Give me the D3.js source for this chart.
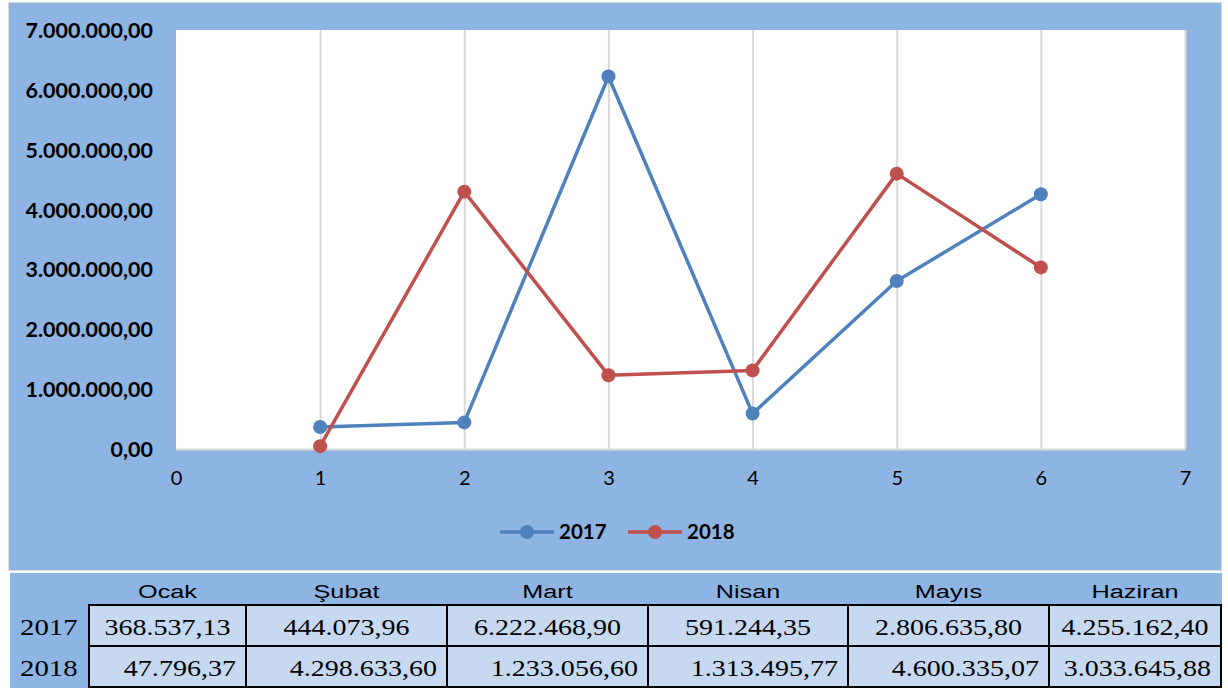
<!DOCTYPE html>
<html>
<head>
<meta charset="utf-8">
<script src="https://cdn.jsdelivr.net/npm/d3@7"></script>
<style>
    body { margin: 0; background: #ffffff; }
    svg { display: block; }
</style>
</head>
<body>
<svg id="chart" width="1228" height="688"></svg>
<script>
// chart data
var months = ["Ocak", "Şubat", "Mart", "Nisan", "Mayıs", "Haziran"];
var xValues = [1, 2, 3, 4, 5, 6];
var values2017 = [368537.13, 444073.96, 6222468.90, 591244.35, 2806635.80, 4255162.40];
var values2018 = [47796.37, 4298633.60, 1233056.60, 1313495.77, 4600335.07, 3033645.88];
var labels2017 = ["368.537,13", "444.073,96", "6.222.468,90", "591.244,35", "2.806.635,80", "4.255.162,40"];
var labels2018 = ["47.796,37", "4.298.633,60", "1.233.056,60", "1.313.495,77", "4.600.335,07", "3.033.645,88"];
var seriesNames = ["2017", "2018"];
var yTicks = [0, 1000000, 2000000, 3000000, 4000000, 5000000, 6000000, 7000000];
var xTicks = [0, 1, 2, 3, 4, 5, 6, 7];

var colors = ["#4F81BD", "#C0504D"];
var panelColor = "#8EB4E3";

var svg = d3.select("#chart");

// panel
svg.append("rect")
    .attr("x", 8.5).attr("y", 2.5)
    .attr("width", 1213).attr("height", 568)
    .attr("fill", panelColor)
    .attr("stroke", "#d9d9d9");

var plot = { left: 176, right: 1185, top: 30, bottom: 449 };

var x = d3.scaleLinear().domain([0, 7]).range([plot.left, plot.right]);
var y = d3.scaleLinear().domain([0, 7000000]).range([plot.bottom, plot.top]);

svg.append("rect")
    .attr("x", plot.left).attr("y", plot.top)
    .attr("width", plot.right - plot.left).attr("height", plot.bottom - plot.top)
    .attr("fill", "#ffffff");

// vertical gridlines
svg.append("g")
    .selectAll("line")
    .data(xTicks.slice(1))
    .join("line")
    .attr("x1", d => x(d) + 0.5).attr("x2", d => x(d) + 0.5)
    .attr("y1", plot.top).attr("y2", plot.bottom)
    .attr("stroke", "#d9d9d9")
    .attr("stroke-width", 2);

svg.append("line")
    .attr("x1", plot.left).attr("x2", plot.right + 1)
    .attr("y1", plot.bottom + 0.5).attr("y2", plot.bottom + 0.5)
    .attr("stroke", "#d9d9d9")
    .attr("stroke-width", 2);

// y axis
var fmt = d3.formatLocale({ decimal: ",", thousands: ".", grouping: [3], currency: ["", ""] }).format(",.2f");

var yAxis = d3.axisLeft(y).tickValues(yTicks).tickFormat(fmt).tickSize(0).tickPadding(23);
var gy = svg.append("g")
    .attr("transform", "translate(" + plot.left + ",0)")
    .call(yAxis);
gy.select(".domain").remove();
gy.selectAll("text")
    .attr("font-family", "Lato, sans-serif")
    .attr("font-weight", "bold")
    .attr("font-size", 21.5)
    .attr("fill", "#000")
    .attr("dy", "0.35em");

// x axis
var xAxis = d3.axisBottom(x).tickValues(xTicks).tickFormat(d3.format("d")).tickSize(0).tickPadding(22);
var gx = svg.append("g")
    .attr("transform", "translate(0," + plot.bottom + ")")
    .call(xAxis);
gx.select(".domain").remove();
gx.selectAll("text")
    .attr("font-family", "Lato, sans-serif")
    .attr("font-size", 20)
    .attr("fill", "#000");

// series
var allSeries = [values2017, values2018];
var line = d3.line()
    .x((d, i) => x(xValues[i]))
    .y(d => y(d));

allSeries.forEach(function (vals, s) {
    svg.append("path")
        .datum(vals)
        .attr("d", line)
        .attr("fill", "none")
        .attr("stroke", colors[s])
        .attr("stroke-width", 3.5)
        .attr("stroke-linejoin", "round");

    svg.append("g")
        .selectAll("circle")
        .data(vals)
        .join("circle")
        .attr("cx", (d, i) => x(xValues[i]))
        .attr("cy", d => y(d))
        .attr("r", 7)
        .attr("fill", colors[s]);
});

// legend
var legendX = [500, 628];
seriesNames.forEach(function (name, s) {
    var g = svg.append("g").attr("transform", "translate(" + legendX[s] + ",532)");
    g.append("line")
        .attr("x1", 0).attr("x2", 54)
        .attr("y1", 0).attr("y2", 0)
        .attr("stroke", colors[s])
        .attr("stroke-width", 3.5);
    g.append("circle")
        .attr("cx", 27).attr("cy", 0).attr("r", 7)
        .attr("fill", colors[s]);
    g.append("text")
        .attr("x", 59).attr("y", 0).attr("dy", "0.36em")
        .attr("font-family", "Lato, sans-serif")
        .attr("font-weight", "bold")
        .attr("font-size", 20.5)
        .text(name);
});

// table below the chart (its text looks stretched sideways)
var table = { left: 10, top: 573, headerBottom: 605, rowH: 41, bottom: 688 };
var colEdges = [89, 246, 447, 648, 848, 1049, 1221];

svg.append("rect")
    .attr("x", table.left).attr("y", table.top)
    .attr("width", 1222 - table.left).attr("height", table.bottom - table.top)
    .attr("fill", panelColor);

function stretched(sel, tx, ty, sx) {
    return sel.attr("transform", "translate(" + tx + "," + ty + ") scale(" + sx + ",1)");
}

months.forEach(function (m, i) {
    stretched(svg.append("text"), (colEdges[i] + colEdges[i + 1]) / 2, 598, 1.33)
        .attr("text-anchor", "middle")
        .attr("font-family", "'Liberation Sans', Arial, sans-serif")
        .attr("font-size", 19)
        .text(m);
});

var rows = [labels2017, labels2018];
rows.forEach(function (labels, r) {
    var top = table.headerBottom + r * table.rowH;
    var cells = svg.append("g");
    cells.selectAll("rect")
        .data(labels)
        .join("rect")
        .attr("x", (d, i) => colEdges[i])
        .attr("y", top)
        .attr("width", (d, i) => colEdges[i + 1] - colEdges[i])
        .attr("height", table.rowH)
        .attr("fill", "#C6D9F1")
        .attr("stroke", "#000")
        .attr("stroke-width", 2);
    labels.forEach(function (d, i) {
        var tx = r === 0 ? (colEdges[i] + colEdges[i + 1]) / 2 : colEdges[i + 1] - 10;
        stretched(cells.append("text"), tx, top + 30, 1.22)
            .attr("text-anchor", r === 0 ? "middle" : "end")
            .attr("font-family", "'Liberation Serif', 'Times New Roman', serif")
            .attr("font-size", 23)
            .text(d);
    });

    stretched(svg.append("text"), 20, top + 30, 1.2)
        .attr("font-family", "'Liberation Serif', 'Times New Roman', serif")
        .attr("font-size", 24)
        .text(seriesNames[r]);
});
</script>
</body>
</html>
